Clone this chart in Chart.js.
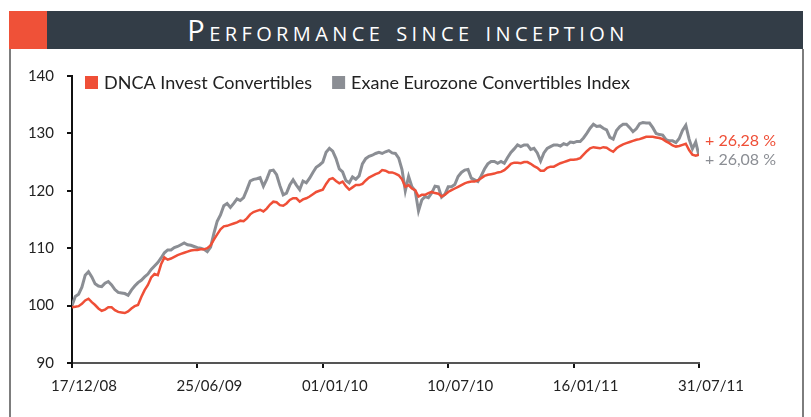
<!DOCTYPE html>
<html>
<head>
<meta charset="utf-8">
<script src="https://cdn.jsdelivr.net/npm/chart.js@4.4.1/dist/chart.umd.min.js"></script>
<style>
  body { margin: 0; background: #fff; width: 811px; height: 417px; overflow: hidden; position: relative; }
  .bar { position: absolute; left: 9px; top: 11px; width: 794px; height: 38px; background: #333d47; }
  .bar .mark { position: absolute; left: 0; top: 0; width: 38px; height: 38px; background: #ef5138; }
  .bar h1 { margin: 0; position: absolute; left: 4px; right: 0; top: 0; line-height: 38px; text-align: center;
            color: #fff; font-weight: 400; font-size: 29px; font-variant: small-caps; letter-spacing: 4.4px;
            font-family: "Open Sans", sans-serif; }
  .frame { position: absolute; left: 9px; top: 49px; width: 791px; height: 380px;
           border-left: 2px solid #7d7d7d; border-right: 2px solid #7d7d7d; }
  #myChart { position: absolute; left: 0; top: 0; }
</style>
</head>
<body>
<div class="bar"><div class="mark"></div><h1>Performance since inception</h1></div>
<div class="frame"></div>
<canvas id="myChart" width="811" height="417"></canvas>
<script>
// x tick labels, one every 38 points
const tickLabels = ["17/12/08", "25/06/09", "01/01/10", "10/07/10", "16/01/11", "31/07/11"];
const pointsPerTick = 38;

const seriesNames = ["DNCA Invest Convertibles", "Exane Eurozone Convertibles Index"];
const endLabels = ["+ 26,28 %", "+ 26,08 %"];

// base 100
const dnca = [
  99.7, 99.8, 99.9, 100.3, 100.9, 101.2, 100.6, 100.1, 99.5, 99.1,
  99.3, 99.7, 99.7, 99.2, 98.9, 98.8, 98.7, 99.0, 99.5, 99.9,
  100.1, 101.5, 102.7, 103.6, 104.9, 105.5, 105.3, 107.2, 108.4, 108.0,
  108.2, 108.5, 108.8, 109.0, 109.2, 109.4, 109.6, 109.7, 109.7, 109.8,
  109.8, 110.0, 110.5, 111.5, 112.4, 113.3, 113.8, 113.9, 114.1, 114.3,
  114.5, 114.8, 114.7, 115.2, 115.9, 116.3, 116.5, 116.7, 116.4, 116.9,
  117.6, 118.1, 118.0, 117.5, 117.4, 117.8, 118.4, 118.7, 118.7, 118.1,
  118.5, 118.7, 119.0, 119.4, 119.8, 120.0, 120.2, 121.2, 122.0, 122.2,
  121.7, 121.3, 121.6, 120.8, 120.2, 120.6, 121.0, 121.0, 121.2, 121.8,
  122.3, 122.6, 122.9, 123.1, 123.6, 123.5, 123.2, 123.2, 123.0, 122.7,
  122.0, 120.7, 121.0, 120.4, 120.1, 119.0, 119.3, 119.3, 119.6, 119.8,
  119.6, 119.5, 119.0, 119.3, 119.8, 120.1, 120.4, 120.7, 121.0, 121.3,
  121.5, 121.6, 121.6, 121.8, 122.2, 122.6, 122.8, 122.9, 123.0, 123.2,
  123.3, 123.6, 124.1, 124.7, 124.9, 124.9, 124.8, 125.0, 125.0, 124.7,
  124.3, 124.0, 123.5, 123.5, 124.0, 124.2, 124.2, 124.5, 124.8, 125.0,
  125.2, 125.4, 125.4, 125.5, 125.7, 126.3, 126.9, 127.4, 127.6, 127.5,
  127.4, 127.6, 127.5, 127.1, 126.8, 127.4, 127.8, 128.1, 128.3, 128.5,
  128.7, 128.9, 129.0, 129.2, 129.4, 129.4, 129.4, 129.3, 129.2, 129.0,
  128.6, 128.3, 127.9, 127.7, 127.8, 128.0, 128.2, 127.1, 126.3, 126.1,
  126.3
];

const exane = [
  100.0, 101.6, 102.0, 103.2, 105.3, 105.9, 105.0, 103.8, 103.4, 103.3,
  103.9, 104.2, 103.6, 102.8, 102.3, 102.2, 102.1, 101.8, 102.7, 103.4,
  104.0, 104.4, 105.0, 105.5, 106.3, 106.9, 107.5, 108.3, 109.2, 109.7,
  109.7, 110.1, 110.3, 110.6, 110.9, 110.6, 110.5, 110.3, 110.1, 110.0,
  109.8, 109.4, 110.2, 112.6, 114.7, 115.8, 117.4, 117.8, 117.1, 117.8,
  118.6, 118.3, 118.8, 120.2, 121.7, 122.0, 122.1, 122.3, 120.8, 122.0,
  123.5, 123.6, 122.8, 120.9, 119.3, 119.6, 121.0, 121.9, 121.0, 120.2,
  121.7, 121.4, 122.2, 123.2, 124.1, 124.5, 125.0, 126.7, 127.4, 126.9,
  125.6, 123.8, 123.3, 121.8, 121.4, 122.4, 122.0, 122.6, 124.7, 125.6,
  126.0, 126.2, 126.5, 126.7, 126.5, 126.8, 127.0, 126.6, 126.5, 125.7,
  123.7, 120.0, 122.5, 120.7, 120.0, 116.5, 118.4, 119.0, 118.8, 119.6,
  120.8, 120.7, 118.9, 119.4, 120.7, 120.7, 121.1, 122.5, 123.2, 123.6,
  123.7, 122.2, 121.9, 121.6, 122.6, 123.8, 124.7, 125.1, 125.1, 124.8,
  125.1, 124.8, 125.8, 126.7, 127.3, 128.0, 127.7, 128.0, 128.0, 127.2,
  127.4, 126.6, 125.2, 126.6, 127.4, 127.7, 128.0, 128.0, 127.8, 128.2,
  128.0, 128.5, 128.4, 128.6, 128.6, 129.2, 130.0, 130.9, 131.6, 131.2,
  131.3, 130.9, 130.6, 129.3, 129.0, 130.5, 131.2, 131.6, 131.6, 131.0,
  130.3, 130.8, 131.7, 131.9, 131.8, 131.8, 131.0, 130.0, 129.8, 129.7,
  128.9, 128.7, 128.7, 128.4, 129.1, 130.5, 131.4, 129.0, 127.3, 128.5,
  126.1
];

const red = "#ef4f37";
const grey = "#8b8e94";
const font = "Lato, sans-serif";

// legend in the top left corner of the plot, and the end-of-line labels
const overlay = {
  id: "overlay",
  afterDraw(chart) {
    const ctx = chart.ctx;
    const area = chart.chartArea;
    const yScale = chart.scales.y;
    ctx.save();
    ctx.textBaseline = "middle";

    ctx.font = "18px " + font;
    let x = area.left + 13;
    const y = area.top + 6.5;
    chart.data.datasets.forEach((ds) => {
      ctx.fillStyle = ds.borderColor;
      ctx.fillRect(x, y - 6.5, 13, 13);
      ctx.fillStyle = "#222";
      ctx.fillText(ds.label, x + 19, y + 1);
      x += 19 + ctx.measureText(ds.label).width + 20;
    });

    ctx.font = "16px " + font;
    const last = dnca.length - 1;
    ctx.fillStyle = red;
    ctx.fillText(endLabels[0], area.right + 6, yScale.getPixelForValue(dnca[last]) - 14);
    ctx.fillStyle = grey;
    ctx.fillText(endLabels[1], area.right + 6, yScale.getPixelForValue(exane[last]) + 4);
    ctx.restore();
  },
};

const ctx = document.getElementById("myChart").getContext("2d");
new Chart(ctx, {
  type: "line",
  data: {
    datasets: [
      {
        label: seriesNames[0],
        borderColor: red,
        backgroundColor: red,
        borderWidth: 2.5,
        data: dnca.map((v, i) => ({ x: i, y: v })),
      },
      {
        label: seriesNames[1],
        borderColor: grey,
        backgroundColor: grey,
        borderWidth: 3,
        data: exane.map((v, i) => ({ x: i, y: v })),
      },
    ],
  },
  options: {
    responsive: false,
    animation: false,
    elements: { point: { radius: 0 }, line: { tension: 0 } },
    layout: { padding: { left: 0, right: 112, top: 76, bottom: 0 } },
    plugins: { legend: { display: false }, tooltip: { enabled: false } },
    scales: {
      x: {
        type: "linear",
        min: 0,
        max: dnca.length - 1,
        afterFit: (s) => { s.height = 54; },
        border: { display: true, color: "#555", width: 2 },
        grid: { drawOnChartArea: false, drawTicks: true, tickLength: 5, color: "#111", lineWidth: 2 },
        ticks: {
          stepSize: pointsPerTick,
          autoSkip: false,
          maxRotation: 0,
          labelOffset: 12,
          padding: 9,
          color: "#222",
          font: { family: font, size: 15 },
          callback: (v) => tickLabels[v / pointsPerTick],
        },
      },
      y: {
        min: 90,
        max: 140,
        afterFit: (s) => { s.width = 72; },
        border: { display: true, color: "#111", width: 2 },
        grid: { drawOnChartArea: false, drawTicks: true, tickLength: 5, color: "#111", lineWidth: 2 },
        ticks: {
          stepSize: 10,
          padding: 13,
          color: "#222",
          font: { family: font, size: 15 },
        },
      },
    },
  },
  plugins: [overlay],
});
</script>
</body>
</html>
